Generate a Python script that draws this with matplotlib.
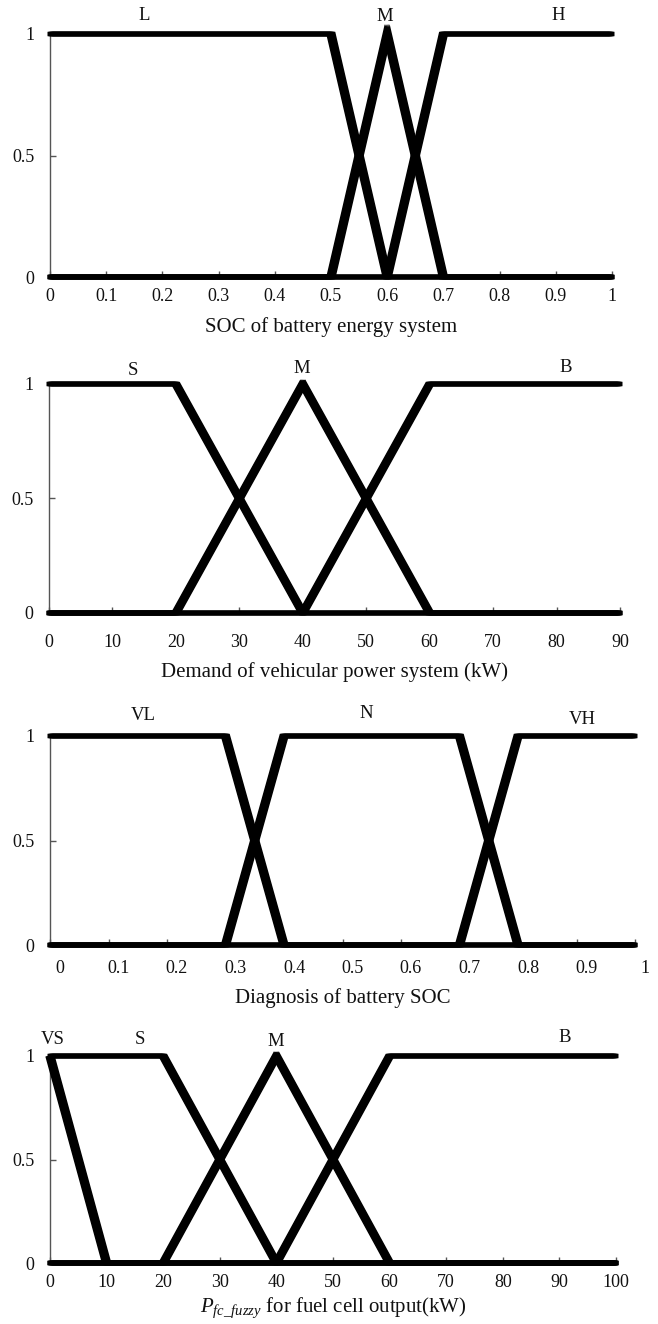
import matplotlib
matplotlib.use("Agg")
import matplotlib.pyplot as plt
import matplotlib.patheffects as pe
from matplotlib.transforms import ScaledTranslation

plt.rcParams['font.family'] = ['Liberation Serif', 'DejaVu Serif']
plt.rcParams['mathtext.fontset'] = 'custom'
plt.rcParams['mathtext.rm'] = 'Liberation Serif'
plt.rcParams['mathtext.it'] = 'Liberation Serif:italic'

# SOC of battery energy system
soc_x = [0, 0.5, 0.6, 0.7, 1]
soc_L = [1, 1, 0, 0, 0]
soc_M = [0, 0, 1, 0, 0]
soc_H = [0, 0, 0, 1, 1]
soc_names = ['L', 'M', 'H']
soc_name_x = [0.168, 0.596, 0.905]
soc_ticks = [0, 0.1, 0.2, 0.3, 0.4, 0.5, 0.6, 0.7, 0.8, 0.9, 1]
soc_ticklabels = ['0', '0.1', '0.2', '0.3', '0.4', '0.5', '0.6', '0.7', '0.8', '0.9', '1']

# power demand (kW)
dem_x = [0, 20, 40, 60, 90]
dem_S = [1, 1, 0, 0, 0]
dem_M = [0, 0, 1, 0, 0]
dem_B = [0, 0, 0, 1, 1]
dem_names = ['S', 'M', 'B']
dem_name_x = [13.3, 39.8, 81.5]
dem_ticks = [0, 10, 20, 30, 40, 50, 60, 70, 80, 90]

# diagnosis of battery SOC
dia_x = [0, 0.3, 0.4, 0.7, 0.8, 1]
dia_VL = [1, 1, 0, 0, 0, 0]
dia_N = [0, 0, 1, 1, 0, 0]
dia_VH = [0, 0, 0, 0, 1, 1]
dia_names = ['VL', 'N', 'VH']
dia_name_x = [0.159, 0.541, 0.91]

# fuel cell output (kW)
pfc_x = [0, 10, 20, 40, 60, 100]
pfc_VS = [1, 0, 0, 0, 0, 0]
pfc_S = [1, 1, 1, 0, 0, 0]
pfc_M = [0, 0, 0, 1, 0, 0]
pfc_B = [0, 0, 0, 0, 1, 1]
pfc_names = ['VS', 'S', 'M', 'B']
pfc_name_x = [0.5, 15.9, 39.8, 91]
pfc_ticks = [0, 10, 20, 30, 40, 50, 60, 70, 80, 90, 100]

W, H = 658, 1324
fig = plt.figure(figsize=(W / 100, H / 100), dpi=100)

# wide flat pen: sloped edges come out heavier than the flat ones
pen = [pe.Stroke(offset=(d, 0)) for d in (-1.8, -1.2, -0.6, 0.6, 1.2, 1.8)]
pen.append(pe.Normal())


def make_axes(x0, x1, y1, y0):
    # pixel box -> figure fraction
    return fig.add_axes([x0 / W, (H - y0) / H, (x1 - x0) / W, (y0 - y1) / H])


def draw_panel(ax, x, curves, names, name_x, name_y, xmax, ticks, ticklabels,
               xlabel, label_y, xpad):
    for y in curves:
        ax.plot(x, y, color='black', lw=3.2, clip_on=False,
                solid_capstyle='butt', solid_joinstyle='miter', zorder=3,
                path_effects=pen)
    for n, nx, ny in zip(names, name_x, name_y):
        ax.text(nx, ny, n, ha='center', va='center', fontsize=13.5, color='#111')
    ax.set_xlim(0, xmax)
    ax.set_ylim(0, 1)
    ax.set_xticks(ticks)
    ax.set_xticklabels(ticklabels)
    ax.set_yticks([0, 0.5, 1])
    ax.set_yticklabels(['0', '0.5', '1'])
    for s in ['top', 'right']:
        ax.spines[s].set_visible(False)
    for s in ['left', 'bottom']:
        ax.spines[s].set_color('#555')
        ax.spines[s].set_linewidth(1.0)
    ax.tick_params(axis='x', direction='in', length=4.5, width=1.0, color='#555',
                   labelsize=13, pad=xpad, labelcolor='#111')
    ax.tick_params(axis='y', direction='in', length=4.5, width=1.0, color='#555',
                   labelsize=13, pad=11, labelcolor='#111')
    ax.set_xlabel(xlabel, fontsize=15, va='center', color='#111')
    ax.xaxis.set_label_coords(0.5, label_y)


ax1 = make_axes(50, 612, 34, 277)
draw_panel(ax1, soc_x, [soc_L, soc_M, soc_H], soc_names, soc_name_x,
           [1.075, 1.07, 1.075], 1, soc_ticks, soc_ticklabels,
           'SOC of battery energy system', -0.206, 8)

ax2 = make_axes(49, 620, 384, 613)
draw_panel(ax2, dem_x, [dem_S, dem_M, dem_B], dem_names, dem_name_x,
           [1.061, 1.066, 1.074], 90, dem_ticks, [str(t) for t in dem_ticks],
           'Demand of vehicular power system (kW)', -0.258, 15)

ax3 = make_axes(50, 635, 736, 945)
draw_panel(ax3, dia_x, [dia_VL, dia_N, dia_VH], dia_names, dia_name_x,
           [1.10, 1.11, 1.08], 1, soc_ticks, soc_ticklabels,
           'Diagnosis of battery SOC', -0.254, 11)
# tick labels of this panel sit a little right of their marks
for tk in ax3.xaxis.get_major_ticks():
    tk.label1.set_transform(tk.label1.get_transform()
                            + ScaledTranslation(0.1, 0, fig.dpi_scale_trans))

ax4 = make_axes(50, 616, 1056, 1263)
draw_panel(ax4, pfc_x, [pfc_VS, pfc_S, pfc_M, pfc_B], pfc_names, pfc_name_x,
           [1.082, 1.082, 1.072, 1.087], 100, pfc_ticks, [str(t) for t in pfc_ticks],
           r'$P_{fc\_fuzzy}$ for fuel cell output(kW)', -0.217, 8)

fig.savefig('out.png', dpi=100)
